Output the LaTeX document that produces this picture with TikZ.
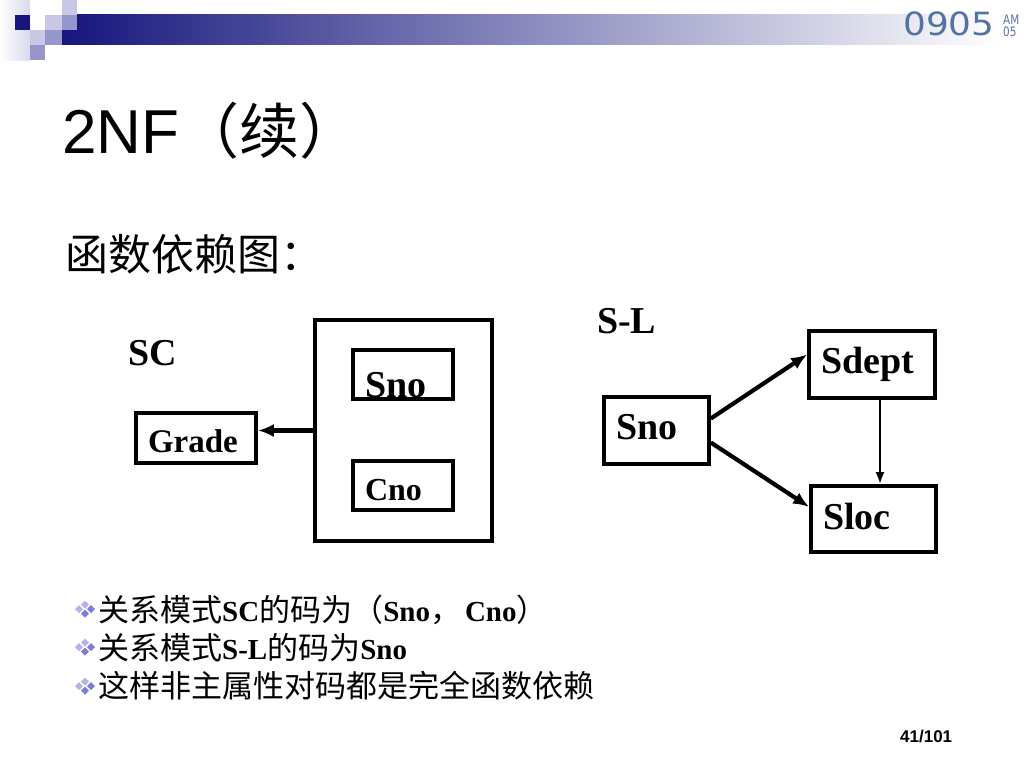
\documentclass[tikz,border=0pt]{standalone}
\usepackage{fontspec}
\usepackage{graphicx}
\setmainfont{Liberation Serif}
\setsansfont{Liberation Sans}
\newfontfamily\cjk{Noto Sans CJK SC}
\newfontfamily\clockfont{DejaVu Sans}
\usetikzlibrary{arrows.meta, positioning, calc}

\definecolor{navy}{RGB}{22,22,125}
\definecolor{sqlight}{RGB}{200,200,228}
\definecolor{sqmid}{RGB}{150,150,205}
\definecolor{clockblue}{RGB}{85,115,160}
\definecolor{dmdlight}{RGB}{180,180,235}
\definecolor{dmddark}{RGB}{125,125,215}

\newcommand{\fs}[1]{\fontsize{#1}{#1}\selectfont}

\begin{document}
\begin{tikzpicture}[
    x=1pt, y=-1pt,
    % Styles
    attr/.style={draw, rectangle, line width=3.6pt, inner xsep=12pt, inner ysep=0pt, align=left, font=\bfseries},
    dep/.style={-{Latex[length=16pt, width=13pt]}, line width=4.2pt},
    thindep/.style={-{Latex[length=12pt, width=9pt]}, line width=2.8pt},
    tag/.style={anchor=base west, inner sep=0pt, font=\bfseries\fs{38}},
    line_text/.style={anchor=base west, inner sep=0pt, font=\fs{29}},
    sq/.style={fill=sqlight},
    sqm/.style={fill=sqmid}
]
    \useasboundingbox (0,0) rectangle (1024,768);
    \fill[white] (0,0) rectangle (1024,768);

    % --- HEADER DECORATION ---
    \shade[left color=white, right color=sqlight!70] (0,0) rectangle (30,60);
    \shade[left color=navy, right color=white] (62,15) rectangle (1000,45);
    \fill[navy] (15,15) rectangle (30,30);
    \fill[sq] (30,30) rectangle (45,45);
    \fill[sqm] (30,45) rectangle (45,60);
    \fill[sq] (45,15) rectangle (62,30);
    \fill[sqm] (45,30) rectangle (62,45);
    \fill[sq] (62,0) rectangle (77,15);
    \fill[sqm] (62,15) rectangle (77,30);

    % Clock
    \node[anchor=base west, inner sep=0pt, text=clockblue, font=\clockfont\fs{32}] (clock) at (903,36) {\scalebox{1.12}[1]{0905}};
    \node[anchor=base west, inner sep=0pt, text=clockblue, font=\clockfont\fs{13}] (ampm) at (1003,25) {\scalebox{0.8}[1]{AM}};
    \node[anchor=base west, inner sep=0pt, text=clockblue, font=\clockfont\fs{13}] (secs) at (1003,37) {\scalebox{0.8}[1]{05}};

    % --- TITLE ---
    \node[anchor=base west, inner sep=0pt] (title) at (62,153) {{\sffamily\fs{62}2NF}{\cjk\fs{60}（续）}};
    \node[anchor=base west, inner sep=0pt, font=\cjk\fs{43}] (subtitle) at (65,270) {函数依赖图：};

    % --- SC ---
    \node[tag] (SC) at (128,365) {SC};
    \node[draw, line width=3.6pt, minimum width=177pt, minimum height=221pt, inner sep=0pt] (SCbox) at (403.5,430.5) {};
    \node[attr, font=\bfseries\fs{38}, text width=76pt, text height=47pt, text depth=2pt] (SnoC) at (403,374.5) {Sno};
    \node[attr, font=\bfseries\fs{32}, text width=76pt, text height=39pt, text depth=10pt] (Cno) at (403,485.5) {Cno};
    \node[attr, font=\bfseries\fs{33}, text width=96pt, text height=39pt, text depth=11pt] (Grade) at (196,438) {Grade};

    \draw[dep] (SCbox.west) -- (SCbox.west -| Grade.east);

    % --- S-L ---
    \node[tag] (SL) at (597,333) {S-L};
    \node[attr, font=\bfseries\fs{38}, text width=81pt, text height=42pt, text depth=25pt] (SnoL) at (656.5,430.5) {Sno};
    \node[attr, font=\bfseries\fs{38}, text width=102pt, text height=42pt, text depth=25pt] (Sdept) at (872,364.5) {Sdept};
    \node[attr, font=\bfseries\fs{38}, text width=101pt, text height=43pt, text depth=23pt] (Sloc) at (873.5,519) {Sloc};

    \draw[dep] ([yshift=12pt]SnoL.east) -- ([yshift=10pt]Sdept.west);
    \draw[dep] ([yshift=-12pt]SnoL.east) -- ([yshift=12pt]Sloc.west);
    \draw[thindep] ([xshift=8pt]Sdept.south) -- ([xshift=8pt]Sdept.south |- Sloc.north);

    % --- NOTES ---
    \foreach \yy in {609,647,686} {
        \fill[dmdlight] (85,\yy-8.5) -- ++(4,4) -- ++(-4,4) -- ++(-4,-4) -- cycle;
        \fill[dmdlight] (79,\yy-4) -- ++(4,4) -- ++(-4,4) -- ++(-4,-4) -- cycle;
        \fill[dmddark] (91,\yy-4) -- ++(4,4) -- ++(-4,4) -- ++(-4,-4) -- cycle;
        \fill[dmddark] (85,\yy+0.5) -- ++(4,4) -- ++(-4,4) -- ++(-4,-4) -- cycle;
    }
    \node[line_text] (note1) at (98,621) {{\cjk\fs{31}关系模式}\textbf{SC}{\cjk\fs{31}的码为（}\textbf{Sno}{\cjk\fs{31}，}\kern4pt\textbf{Cno}{\cjk\fs{31}）}};
    \node[line_text] (note2) at (98,659) {{\cjk\fs{31}关系模式}\textbf{S-L}{\cjk\fs{31}的码为}\textbf{Sno}};
    \node[line_text] (note3) at (98,697) {{\cjk\fs{31}这样非主属性对码都是完全函数依赖}};

    % Page number
    \node[anchor=base west, inner sep=0pt, font=\sffamily\bfseries\fs{17}] (page) at (900,742) {41/101};

\end{tikzpicture}
\end{document}
